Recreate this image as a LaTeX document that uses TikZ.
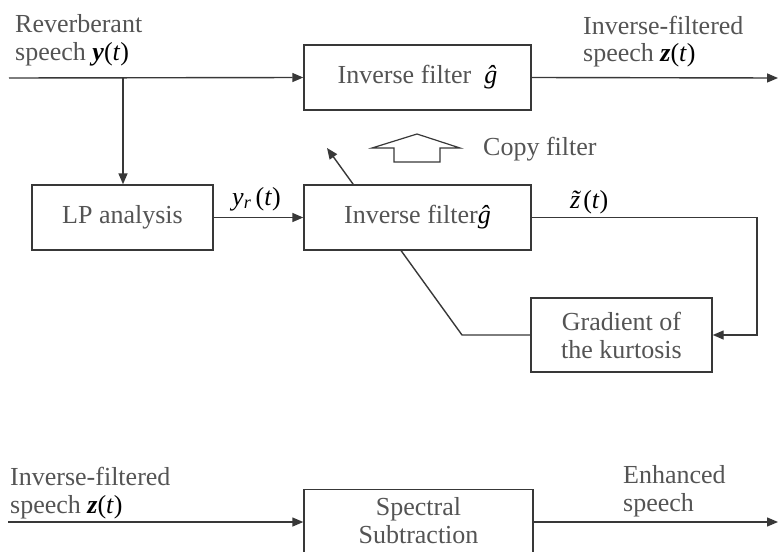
\documentclass[tikz,border=0pt]{standalone}
\usepackage{fontspec}
\setmainfont{Liberation Serif}
\usetikzlibrary{arrows.meta,backgrounds}
\definecolor{txtc}{gray}{0.33}
\definecolor{linec}{gray}{0.22}
\newcommand{\mvar}[1]{\textcolor{black}{#1}}
\tikzset{
  blk/.style={draw=linec, line width=1.4pt, fill=white, inner sep=0pt, text=txtc,
              font=\fontsize{26}{28}\selectfont, align=center},
  lbl/.style={text=txtc, font=\fontsize{26}{28}\selectfont, inner sep=0pt,
              align=left, anchor=base west},
  arr/.style={draw=linec, line width=1.4pt, -{Triangle[length=11pt,width=9pt]}},
  ln/.style={draw=linec, line width=1.4pt},
}
\begin{document}
\begin{tikzpicture}[x=1pt,y=-1pt]
\useasboundingbox (0,0) rectangle (778,551);
\clip (0,0) rectangle (778,551);

% blocks
\node[blk, minimum width=227, minimum height=65] (inv1) at (417.5,77.5)
  {Inverse filter\ \ \mvar{\textit{ĝ}}};
\node[blk, minimum width=181, minimum height=65] (lp) at (122.5,217.5) {LP analysis};
\node[blk, minimum width=227, minimum height=65] (inv2) at (417.5,217.5)
  {Inverse filter\mvar{\textit{ĝ}}};
\node[blk, minimum width=181, minimum height=74] (grad) at (621.5,335)
  {Gradient of\\the kurtosis};
\node[blk, minimum width=229, anchor=north, inner ysep=8pt, text depth=22pt] (ss) at (418.5,489)
  {Spectral\\Subtraction};

% labels (base anchor = baseline of last line)
\node[lbl] (lrev) at (15,60) {Reverberant\\speech \mvar{\textbf{\textit{y}}(\textit{t})}};
\node[lbl] (lifo) at (583,62) {Inverse-filtered\\speech \mvar{\textbf{\textit{z}}(\textit{t})}};
\node[lbl] (lyr) at (232,205) {\mvar{\textit{y}\textsubscript{\textit{r}}\,(\textit{t})}};
\node[lbl] (lzt) at (570,208) {\mvar{\textit{z̃}\kern-0.28em(\textit{t})}};
\node[lbl] (lcopy) at (483,155) {Copy filter};
\node[lbl] (lifi) at (10,513) {Inverse-filtered\\speech \mvar{\textbf{\textit{z}}(\textit{t})}};
\node[lbl] (lenh) at (623,511) {Enhanced\\speech};

% coordinates
\coordinate (yin) at (9,78);
\coordinate (br) at (123,78);
\coordinate (zout) at (778,78);
\coordinate (rc) at (757,0);
\coordinate (bend) at (462,335);
\coordinate (tip) at (327,148);
\coordinate (zin) at (8,522);
\coordinate (eout) at (778,522);

% connectors
\draw[arr] (yin) -- (inv1.west);
\draw[arr] (br) -- (br |- lp.north);
\draw[arr] (inv1.east) -- (zout);
\draw[arr] (lp.east) -- (inv2.west);
\draw[arr] (inv2.east) -- (inv2.east -| rc) |- (grad.east);
\begin{pgfonlayer}{background}
\draw[arr] (grad.west) -- (bend) -- (tip);
\end{pgfonlayer}
\draw[arr] (zin) -- (zin -| ss.west);
\draw[arr] (zin -| ss.east) -- (eout);

% copy-filter hollow arrow
\draw[draw=linec, line width=1.2pt, line join=miter]
  (372,148) -- (417,134) -- (460,148) -- (440,148) -- (440,162)
  -- (394,162) -- (394,148) -- cycle;
\end{tikzpicture}
\end{document}
